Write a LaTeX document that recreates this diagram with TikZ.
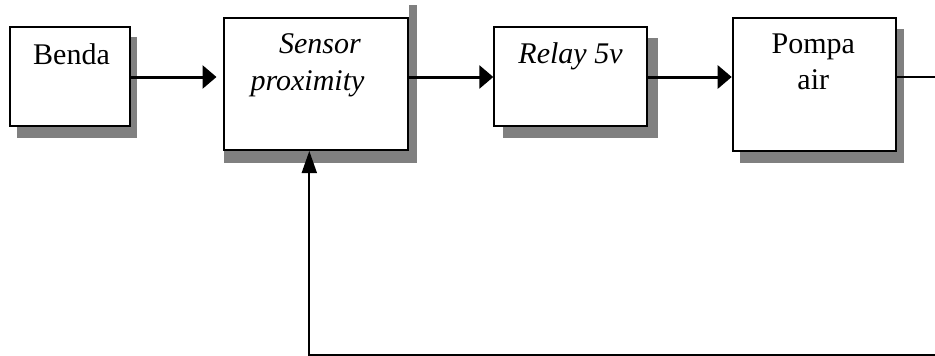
\documentclass[tikz,border=0pt]{standalone}
\usepackage{fontspec}
\setmainfont{Liberation Serif}
\usetikzlibrary{arrows.meta}
\tikzset{
  blk/.style={draw=black, line width=2pt, fill=white, rectangle, inner sep=0pt},
  shadowfill/.style={fill=black!50, draw=none},
  lbl/.style={anchor=base, inner sep=0pt, font=\fontsize{30}{36}\selectfont},
  flow/.style={line width=3pt, -{Triangle[length=14pt,width=23pt]}},
  fback/.style={line width=1.7pt, -{Triangle[length=22pt,width=15pt]}}
}
\begin{document}
\begin{tikzpicture}[x=1pt,y=-1pt]
\useasboundingbox (0,0) rectangle (935,356);
% shadows
\fill[shadowfill] (17,37) rectangle (137,138);
\fill[shadowfill] (224,29) rectangle (417,163);
\fill[shadowfill] (409,5) rectangle (417,29);
\fill[shadowfill] (503,38) rectangle (658,138);
\fill[shadowfill] (740,29) rectangle (904,163);
% boxes
\node[blk, minimum width=120pt, minimum height=99pt] (benda) at (70,76.5) {};
\node[blk, minimum width=184pt, minimum height=132pt] (sensor) at (316,84) {};
\node[blk, minimum width=153pt, minimum height=99pt] (relay) at (570.8,76.5) {};
\node[blk, minimum width=163.6pt, minimum height=133pt] (pompa) at (814.5,84.5) {};
% texts
\node[lbl] (tbenda) at (71.5,64) {Benda};
\node[lbl] (tsensor1) at (320,53.3) {\itshape Sensor};
\node[lbl] (tsensor2) at (307.5,90) {\itshape proximity};
\node[lbl] (trelay) at (570.5,63.3) {\itshape Relay 5v};
\node[lbl] (tpompa1) at (813.3,53.3) {Pompa};
\node[lbl] (tpompa2) at (813.3,89.3) {air};
% connectors
\draw[flow, shorten >=6.5pt] (benda.east |- 0,77) -- (sensor.west |- 0,77);
\draw[flow] (sensor.east |- 0,77) -- (relay.west |- 0,77);
\draw[flow] (relay.east |- 0,77) -- (pompa.west |- 0,77);
\coordinate (outR) at (938,77);
\coordinate (botR) at (938,355);
\coordinate (botL) at (309.3,355);
\draw[fback] (pompa.east |- 0,77) -- (outR) -- (botR) -- (botL) -- (botL |- sensor.south);
\end{tikzpicture}
\end{document}
